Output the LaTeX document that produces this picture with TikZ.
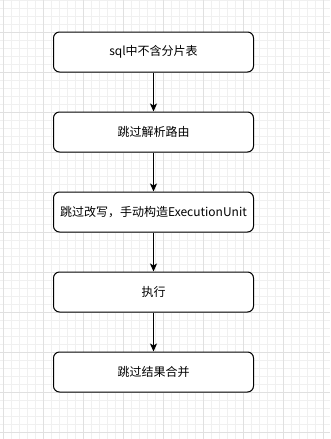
\documentclass[tikz,border=0pt]{standalone}
\usepackage{fontspec}
\setmainfont{Noto Sans CJK SC}
\usetikzlibrary{arrows.meta}
\begin{document}
\begin{tikzpicture}[x=1pt,y=-1pt,
  stepbox/.style={draw, line width=1pt, rounded corners=6pt, minimum width=200pt, minimum height=40pt, inner sep=0pt, fill=white, font=\fontsize{12pt}{14pt}\selectfont},
  arr/.style={line width=1pt, -{Stealth[length=8pt,width=7pt,inset=2pt]}},
  minorgrid/.style={draw=black!6, line width=0.8pt},
  majorgrid/.style={draw=black!12, line width=0.8pt}]
\useasboundingbox (0,0) rectangle (330,439);
\fill[white] (0,0) rectangle (330,439);
\foreach \x in {3.5,11.5,...,330} \draw[minorgrid] (\x,0) -- (\x,439);
\foreach \y in {0,8,...,439} \draw[minorgrid] (0,\y) -- (330,\y);
\foreach \x in {3.5,43.5,...,330} \draw[majorgrid] (\x,0) -- (\x,439);
\foreach \y in {32,72,...,439} \draw[majorgrid] (0,\y) -- (330,\y);
\node[stepbox] (a) at (153.5,52) {sql中不含分片表};
\node[stepbox] (b) at (153.5,132) {跳过解析路由};
\node[stepbox] (c) at (153.5,212) {跳过改写，手动构造ExecutionUnit};
\node[stepbox] (d) at (153.5,292) {执行};
\node[stepbox] (e) at (153.5,372) {跳过结果合并};
\draw[arr] (a) -- (b);
\draw[arr] (b) -- (c);
\draw[arr] (c) -- (d);
\draw[arr] (d) -- (e);
\end{tikzpicture}
\end{document}
